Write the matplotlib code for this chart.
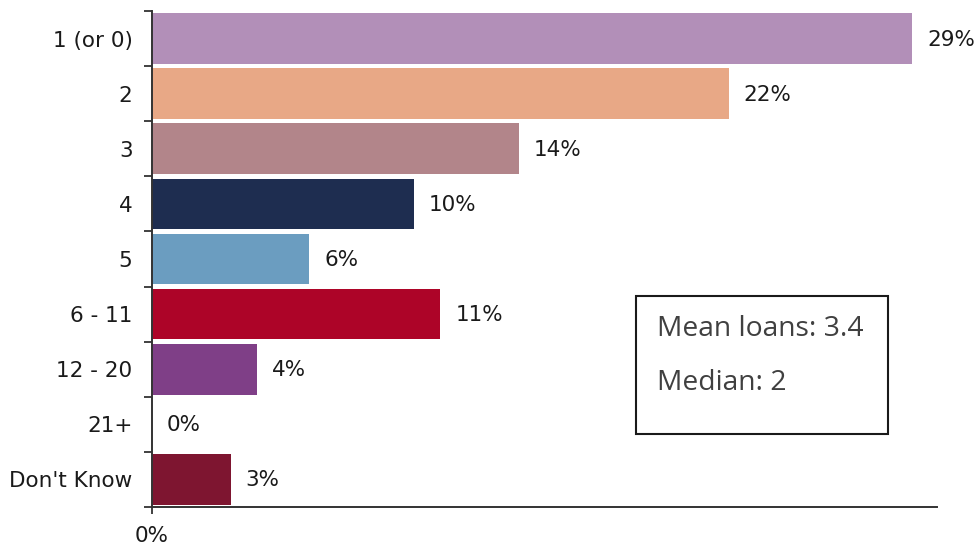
import matplotlib
matplotlib.use("Agg")
import matplotlib.pyplot as plt
from matplotlib.patches import Rectangle

categories = ["1 (or 0)", "2", "3", "4", "5", "6 - 11", "12 - 20", "21+", "Don't Know"]
shares = [29, 22, 14, 10, 6, 11, 4, 0, 3]
colors = ["#B28FB8", "#E8A886", "#B2858A", "#1E2D50", "#6B9DC0",
          "#AD0428", "#7F3F87", "#7F3F87", "#7E1530"]
summary_lines = ["Mean loans: 3.4", "Median: 2"]

plt.rcParams["font.family"] = ["DejaVu Sans"]
LABEL_SIZE = 15.5

W, H = 979, 547
fig = plt.figure(figsize=(W / 100, H / 100), dpi=100)
ax = fig.add_axes([152 / W, (H - 507) / H, (937 - 152) / W, (507 - 11) / H])

n = len(categories)
ypos = list(range(n))
ax.barh(ypos, shares, height=0.92, color=colors, edgecolor="none")
ax.set_xlim(0, 29.95)
ax.set_ylim(n - 0.5, -0.5)

for y, v in zip(ypos, shares):
    ax.annotate(f"{v}%", xy=(v, y), xytext=(15, -1), textcoords="offset pixels",
                va="center", ha="left", fontsize=LABEL_SIZE, color="#1a1a1a")

# category labels centred on bars, ticks on category boundaries
ax.set_yticks([i - 0.5 for i in range(n + 1)])
ax.set_yticklabels([])
ax.set_yticks(ypos, minor=True)
ax.set_yticklabels(categories, minor=True, fontsize=LABEL_SIZE, color="#1a1a1a")
ax.tick_params(axis="y", which="major", length=6, width=1.3, color="#333333", direction="out")
ax.tick_params(axis="y", which="minor", length=0, pad=14)

ax.set_xticks([0])
ax.set_xticklabels(["0%"], fontsize=LABEL_SIZE, color="#1a1a1a")
ax.tick_params(axis="x", length=5, width=1.3, color="#333333", pad=9)

for side in ["top", "right"]:
    ax.spines[side].set_visible(False)
for side in ["left", "bottom"]:
    ax.spines[side].set_color("#333333")
    ax.spines[side].set_linewidth(1.4)

# summary box
bx0, by0, bx1, by1 = 636, 296, 888, 434
fig.patches.append(Rectangle((bx0 / W, (H - by1) / H), (bx1 - bx0) / W, (by1 - by0) / H,
                             transform=fig.transFigure, fill=False,
                             edgecolor="#1a1a1a", linewidth=1.5))
fig.text(657 / W, (H - 329) / H, summary_lines[0], fontsize=20.3, family="Open Sans",
         color="#404040", va="center", ha="left")
fig.text(657 / W, (H - 383) / H, summary_lines[1], fontsize=20.3, family="Open Sans",
         color="#404040", va="center", ha="left")

fig.savefig("out.png", dpi=100)
